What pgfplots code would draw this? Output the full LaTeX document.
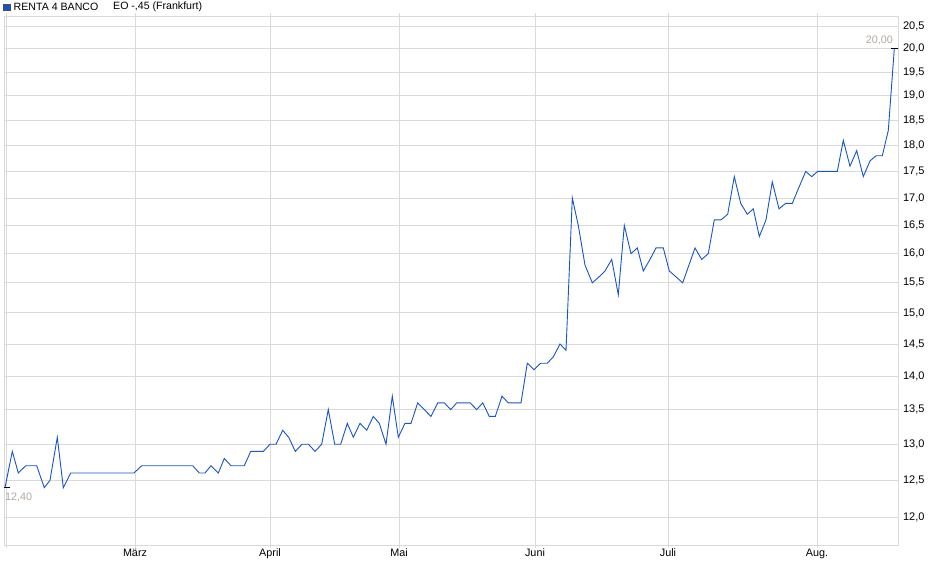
\documentclass[border=0pt]{standalone}
\usepackage{pgfplots}
\pgfplotsset{compat=1.18}
\usepackage{fontspec}
\setmainfont{Liberation Sans}

\definecolor{kurs}{RGB}{20,85,200}
\definecolor{gitter}{RGB}{218,218,218}
\definecolor{marke}{RGB}{178,168,158}

\begin{document}
\begin{tikzpicture}
    % page = 940 x 579 px, 1pt per px
    \path[use as bounding box] (0,0) rectangle (940pt,-579pt);

    % legend / title line
    \fill[kurs, draw=black!70, line width=0.6pt] (3.5pt,-3.8pt) rectangle (10.2pt,-10.5pt);
    \node[anchor=west, inner sep=0pt, font=\fontsize{10.6}{12}\selectfont] at (13.5pt,-7pt) {RENTA 4 BANCO};
    \node[anchor=west, inner sep=0pt, font=\fontsize{10.6}{12}\selectfont] at (113pt,-7pt) {EO -,45 (Frankfurt)};

    \begin{axis}[
        at={(4pt,-545pt)}, anchor=south west,
        scale only axis,
        width=894pt, height=529pt,
        xmin=4, xmax=898,
        ymode=log,
        ymin=11.65, ymax=20.725,
        axis line style={draw=gitter},
        grid=major,
        major grid style={draw=gitter, line width=0.8pt},
        xtick={6,135,270,399,535,668,817},
        xticklabels={,März,April,Mai,Juni,Juli,Aug.},
        ytick={12,12.5,13,13.5,14,14.5,15,15.5,16,16.5,17,17.5,18,18.5,19,19.5,20,20.5},
        yticklabels={{12,0},{12,5},{13,0},{13,5},{14,0},{14,5},{15,0},{15,5},{16,0},{16,5},{17,0},{17,5},{18,0},{18,5},{19,0},{19,5},{20,0},{20,5}},
        yticklabel pos=right,
        ytick style={draw=none},
        xtick style={draw=gitter, line width=0.8pt},
        tick align=outside,
        major tick length=3pt,
        x tick label style={font=\fontsize{10.8}{12}\selectfont, yshift=2.5pt},
        y tick label style={font=\fontsize{11}{12}\selectfont, anchor=west, xshift=-1.5pt},
        clip mode=individual,
        ]

        \addplot[kurs, line width=0.9pt] coordinates {
            (5,12.4) (12.3,12.9) (18.3,12.6) (25.7,12.7) (36.7,12.7)
            (44.3,12.4) (50,12.5) (57.3,13.1) (63.3,12.4) (70.7,12.6)
            (134,12.6) (141.7,12.7) (192.7,12.7) (199.3,12.6) (205,12.6)
            (211,12.7) (218.3,12.6) (224.3,12.8) (231,12.7) (244.3,12.7)
            (250.7,12.9) (263.3,12.9) (270,13.0) (276,13.0) (282.7,13.2)
            (288.7,13.1) (295.3,12.9) (302,13.0) (308.5,13.0) (315,12.9)
            (321.7,13.0) (328.3,13.5) (334.7,13.0) (340.7,13.0) (347.3,13.3)
            (353.3,13.1) (360,13.3) (366.7,13.2) (373.3,13.4) (379.3,13.3)
            (386,13.0) (392.3,13.7) (398.3,13.1) (405,13.3) (411,13.3)
            (417.7,13.6) (424.3,13.5) (431,13.4) (437.7,13.6) (444.3,13.6)
            (450.7,13.5) (456.7,13.6) (470,13.6) (476.7,13.5) (482.7,13.6)
            (489.3,13.4) (495.3,13.4) (502,13.7) (508.3,13.6) (521,13.6)
            (527.3,14.2) (534,14.1) (540.7,14.2) (547.3,14.2) (553.3,14.3)
            (560,14.5) (566,14.4) (572.3,17.0) (578.3,16.5) (585,15.8)
            (592.3,15.5) (599,15.6) (605,15.7) (611.7,15.9) (618.3,15.3)
            (624.3,16.5) (631,16.0) (637.3,16.1) (643.3,15.7) (650,15.9)
            (656,16.1) (663.3,16.1) (669.3,15.7) (676,15.6) (682.7,15.5)
            (695,16.1) (701.7,15.9) (708.3,16.0) (714.3,16.6) (721,16.6)
            (727.7,16.7) (734.3,17.4) (740.7,16.9) (747.3,16.7) (753.3,16.8)
            (759.3,16.3) (766,16.6) (772.3,17.3) (779,16.8) (785.7,16.9)
            (792.3,16.9) (799,17.2) (805.7,17.5) (811.7,17.4) (817.7,17.5)
            (837.3,17.5) (843.3,18.1) (850,17.6) (856.7,17.9) (863.3,17.4)
            (870,17.7) (876,17.8) (882.3,17.8) (888.3,18.3) (894.3,20.0)
        };

        % first and last price markers
        \addplot[black, line width=1pt] coordinates {(0,12.4) (10,12.4)};
        \addplot[black, line width=1pt] coordinates {(891,20.0) (900,20.0)};
        \node[anchor=north west, inner sep=0pt, text=marke, font=\fontsize{10.8}{12}\selectfont]
            at (axis cs:5,12.4) [yshift=-5pt] {12,40};
        \node[anchor=south east, inner sep=0pt, text=marke, font=\fontsize{10.8}{12}\selectfont]
            at (axis cs:893,20.0) [yshift=4pt] {20,00};
    \end{axis}
\end{tikzpicture}
\end{document}
